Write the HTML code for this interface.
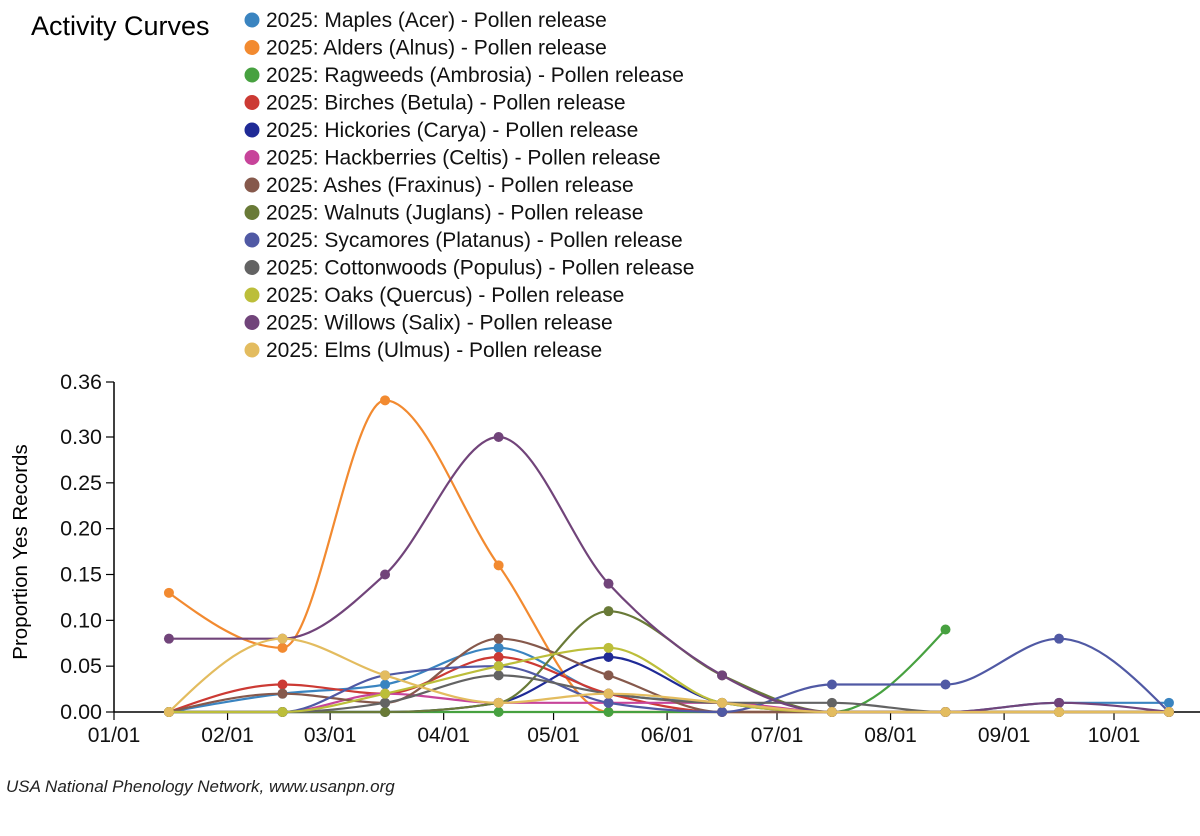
<!DOCTYPE html>
<html><head><meta charset="utf-8"><style>
body{margin:0;background:#fff;font-family:"Liberation Sans",Arial,sans-serif;}
svg text{font-family:"Liberation Sans",Arial,sans-serif;}
</style></head><body>
<svg id="chart" width="1200" height="831" viewBox="0 0 1200 831">
<text x="31" y="35" font-size="27" fill="#000">Activity Curves</text>
<g id="legend"></g>
<g id="axes"></g>
<g id="series"></g>
<text transform="translate(27,552) rotate(-90)" text-anchor="middle" font-size="20.5" fill="#000">Proportion Yes Records</text>
<text x="6" y="792" font-size="17" font-style="italic" fill="#222">USA National Phenology Network, www.usanpn.org</text>
</svg>
<script>
const months = ["01/01","02/01","03/01","04/01","05/01","06/01","07/01","08/01","09/01","10/01"];
const monthDays = [0,31,59,90,120,151,181,212,243,273];
const pointDays = [15,46,74,105,135,166,196,227,258,288];
const yTicks = [0,0.05,0.10,0.15,0.20,0.25,0.30,0.36];
const names = ["Maples (Acer)","Alders (Alnus)","Ragweeds (Ambrosia)","Birches (Betula)","Hickories (Carya)","Hackberries (Celtis)","Ashes (Fraxinus)","Walnuts (Juglans)","Sycamores (Platanus)","Cottonwoods (Populus)","Oaks (Quercus)","Willows (Salix)","Elms (Ulmus)"];
const colors = ["#3a84c0","#f28a30","#47a140","#cc3a34","#1f2a96","#c7449a","#86594c","#697a37","#5059a4","#636363","#bcbe3a","#71447a","#e3bc5f"];
const acer     = [0,0.02,0.03,0.07,0.02,0.01,0,0,0.01,0.01];
const alnus    = [0.13,0.07,0.34,0.16,0,0,0,0,0,0];
const ambrosia = [0,0,0,0,0,0,0,0.09,null,null];
const betula   = [0,0.03,0.02,0.06,0.02,0,0,0,0,0];
const carya    = [0,0,0,0.01,0.06,0.01,0,0,0,0];
const celtis   = [0,0,0.02,0.01,0.01,0.01,0,0,0,0];
const fraxinus = [0,0.02,0.01,0.08,0.04,0,0,0,0,0];
const juglans  = [0,0,0,0.01,0.11,0.04,0,0,0,0];
const platanus = [0,0,0.04,0.05,0.01,0,0.03,0.03,0.08,0];
const populus  = [0,0,0.01,0.04,0.02,0.01,0.01,0,0,0];
const quercus  = [0,0,0.02,0.05,0.07,0.01,0,0,0,0];
const salix    = [0.08,0.08,0.15,0.30,0.14,0.04,0,0,0.01,0];
const ulmus    = [0,0.08,0.04,0.01,0.02,0.01,0,0,0,0];
const seriesVals = [acer,alnus,ambrosia,betula,carya,celtis,fraxinus,juglans,platanus,populus,quercus,salix,ulmus];

const NS="http://www.w3.org/2000/svg";
const x0=114,x1=1114,y0=712,y1=382;
function xs(d){return x0+(d-0)*(x1-x0)/273;}
function ys(v){return y0-(v/0.36)*(y0-y1);}
function mk(t,p,a){const e=document.createElementNS(NS,t);for(const k in a)e.setAttribute(k,a[k]);p.appendChild(e);return e;}

const leg=document.getElementById('legend');
names.forEach((n,i)=>{
  const g=mk('g',leg,{});
  
  
  const y=20+i*27.5;
  mk('circle',g,{cx:252,cy:y,r:7.5,fill:colors[i]});
  const t=mk('text',g,{x:266,y:y+7,'font-size':21,fill:'#111'});
  t.textContent="2025: "+n+" - Pollen release";
});

const ax=document.getElementById('axes');
const xa=mk('line',ax,{x1:x0,y1:y0,x2:1200,y2:y0,stroke:'#000','stroke-width':1.5});


const ya=mk('line',ax,{x1:x0,y1:y0,x2:x0,y2:y1,stroke:'#000','stroke-width':1.5});


yTicks.forEach(v=>{
  const y=ys(v);
  mk('line',ax,{x1:x0-8,y1:y,x2:x0,y2:y,stroke:'#000','stroke-width':1.2});
  const t=mk('text',ax,{x:x0-12,y:y+7,'text-anchor':'end','font-size':21.5,fill:'#111'});
  
  
  t.textContent=v.toFixed(2);
});
months.forEach((m,i)=>{
  const x=xs(monthDays[i]);
  mk('line',ax,{x1:x,y1:y0,x2:x,y2:y0+8,stroke:'#000','stroke-width':1.2});
  const t=mk('text',ax,{x:x,y:y0+30,'text-anchor':'middle','font-size':21,fill:'#111'});
  
  
  t.textContent=m;
});

function monotonePath(pts){
  const n=pts.length;if(n<2)return "";
  const dx=[],s=[];for(let i=0;i<n-1;i++){dx.push(pts[i+1][0]-pts[i][0]);s.push((pts[i+1][1]-pts[i][1])/dx[i]);}
  const m=new Array(n);
  m[0]=s[0];m[n-1]=s[n-2];
  for(let i=1;i<n-1;i++){
    if(s[i-1]*s[i]<=0)m[i]=0;
    else{const h0=dx[i-1],h1=dx[i];const p=(s[i-1]*h1+s[i]*h0)/(h0+h1);
      m[i]=(Math.sign(s[i-1])+Math.sign(s[i]))*Math.min(Math.abs(s[i-1]),Math.abs(s[i]),0.5*Math.abs(p));}
  }
  if(n>2){m[0]=(3*s[0]-m[1])/2; m[n-1]=(3*s[n-2]-m[n-2])/2;}
  let d="M"+pts[0][0]+","+pts[0][1];
  for(let i=0;i<n-1;i++){const h=dx[i]/3;
    d+="C"+(pts[i][0]+h)+","+(pts[i][1]+m[i]*h)+","+(pts[i+1][0]-h)+","+(pts[i+1][1]-m[i+1]*h)+","+pts[i+1][0]+","+pts[i+1][1];}
  return d;
}
const sg=document.getElementById('series');
seriesVals.forEach((vals,i)=>{
  const g=mk('g',sg,{});
  
  
  const pts=[];vals.forEach((v,j)=>{if(v!==null)pts.push([xs(pointDays[j]),ys(v)]);});
  const p=mk('path',g,{d:monotonePath(pts),fill:'none',stroke:colors[i],'stroke-width':2.2});
  
  
  pts.forEach(pt=>{
    const c=mk('circle',g,{cx:pt[0],cy:pt[1],r:5,fill:colors[i]});
    
    
  });
});
</script>
</body></html>
